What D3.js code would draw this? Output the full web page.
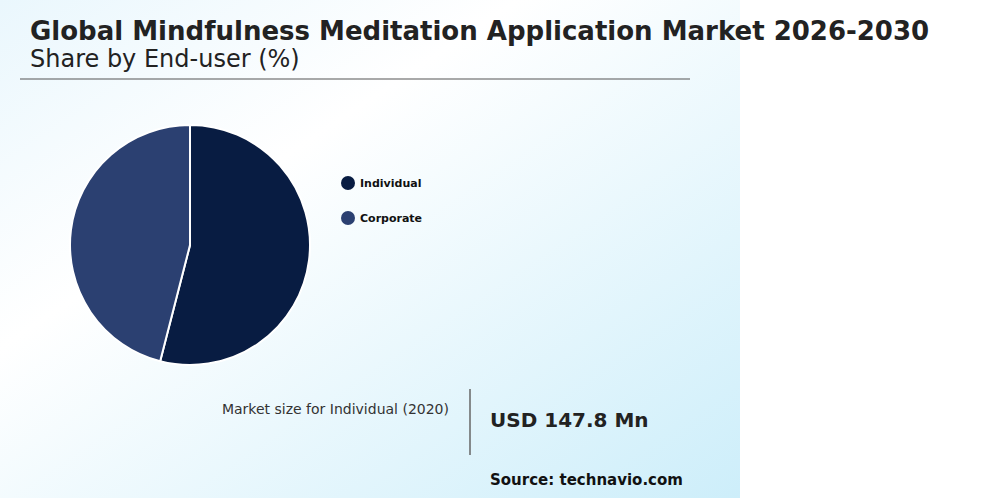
<!DOCTYPE html>
<html><head><meta charset="utf-8">
<script src="https://cdn.jsdelivr.net/npm/d3@7"></script>
<style>body{margin:0;font-family:"DejaVu Sans",sans-serif}</style>
</head><body>
<svg id="chart" width="999" height="498"></svg>
<script>
const categories = ["Individual", "Corporate"];
const shares = [54, 46];
const colors = ["#081c42", "#2b4071"];

const svg = d3.select("#chart");
const defs = svg.append("defs");
const grad = defs.append("linearGradient").attr("id", "bg")
  .attr("x1", "0%").attr("y1", "0%").attr("x2", "100%").attr("y2", "100%");
grad.append("stop").attr("offset", "0%").attr("stop-color", "#eaf7fd");
grad.append("stop").attr("offset", "35%").attr("stop-color", "#ffffff");
grad.append("stop").attr("offset", "100%").attr("stop-color", "#cdeefa");

svg.append("rect").attr("width", 740).attr("height", 498).attr("fill", "url(#bg)");

svg.append("text").attr("x", 30).attr("y", 40).attr("font-size", 26).attr("font-weight", "bold")
  .attr("fill", "#222").text("Global Mindfulness Meditation Application Market 2026-2030");
svg.append("text").attr("x", 30).attr("y", 67).attr("font-size", 24)
  .attr("fill", "#222").text("Share by End-user (%)");
svg.append("line").attr("x1", 20).attr("x2", 690).attr("y1", 79).attr("y2", 79)
  .attr("stroke", "#555").attr("stroke-width", 1.2);

// pie
const pie = d3.pie().sort(null).value(d => d);
const arc = d3.arc().innerRadius(0).outerRadius(120);
svg.append("g").attr("transform", "translate(190,245)")
  .selectAll("path").data(pie(shares)).join("path")
  .attr("d", arc).attr("fill", (d, i) => colors[i])
  .attr("stroke", "#fff").attr("stroke-width", 2);

// legend
const leg = svg.append("g").attr("transform", "translate(348,183)");
categories.forEach((c, i) => {
  const g = leg.append("g").attr("transform", `translate(0,${i * 35})`);
  g.append("circle").attr("r", 7).attr("fill", colors[i]);
  g.append("text").attr("x", 12).attr("y", 4).attr("font-size", 11).attr("font-weight", "bold")
    .attr("fill", "#111").text(c);
});

svg.append("text").attr("x", 449).attr("y", 414).attr("text-anchor", "end").attr("font-size", 14)
  .attr("fill", "#333").text("Market size for Individual (2020)");
svg.append("line").attr("x1", 470).attr("x2", 470).attr("y1", 389).attr("y2", 455)
  .attr("stroke", "#666").attr("stroke-width", 1.5);
svg.append("text").attr("x", 490).attr("y", 427).attr("font-size", 20).attr("font-weight", "bold")
  .attr("fill", "#222").text("USD 147.8 Mn");
svg.append("text").attr("x", 490).attr("y", 485).attr("font-size", 15).attr("font-weight", "bold")
  .attr("fill", "#111").text("Source: technavio.com");
</script>
</body></html>
